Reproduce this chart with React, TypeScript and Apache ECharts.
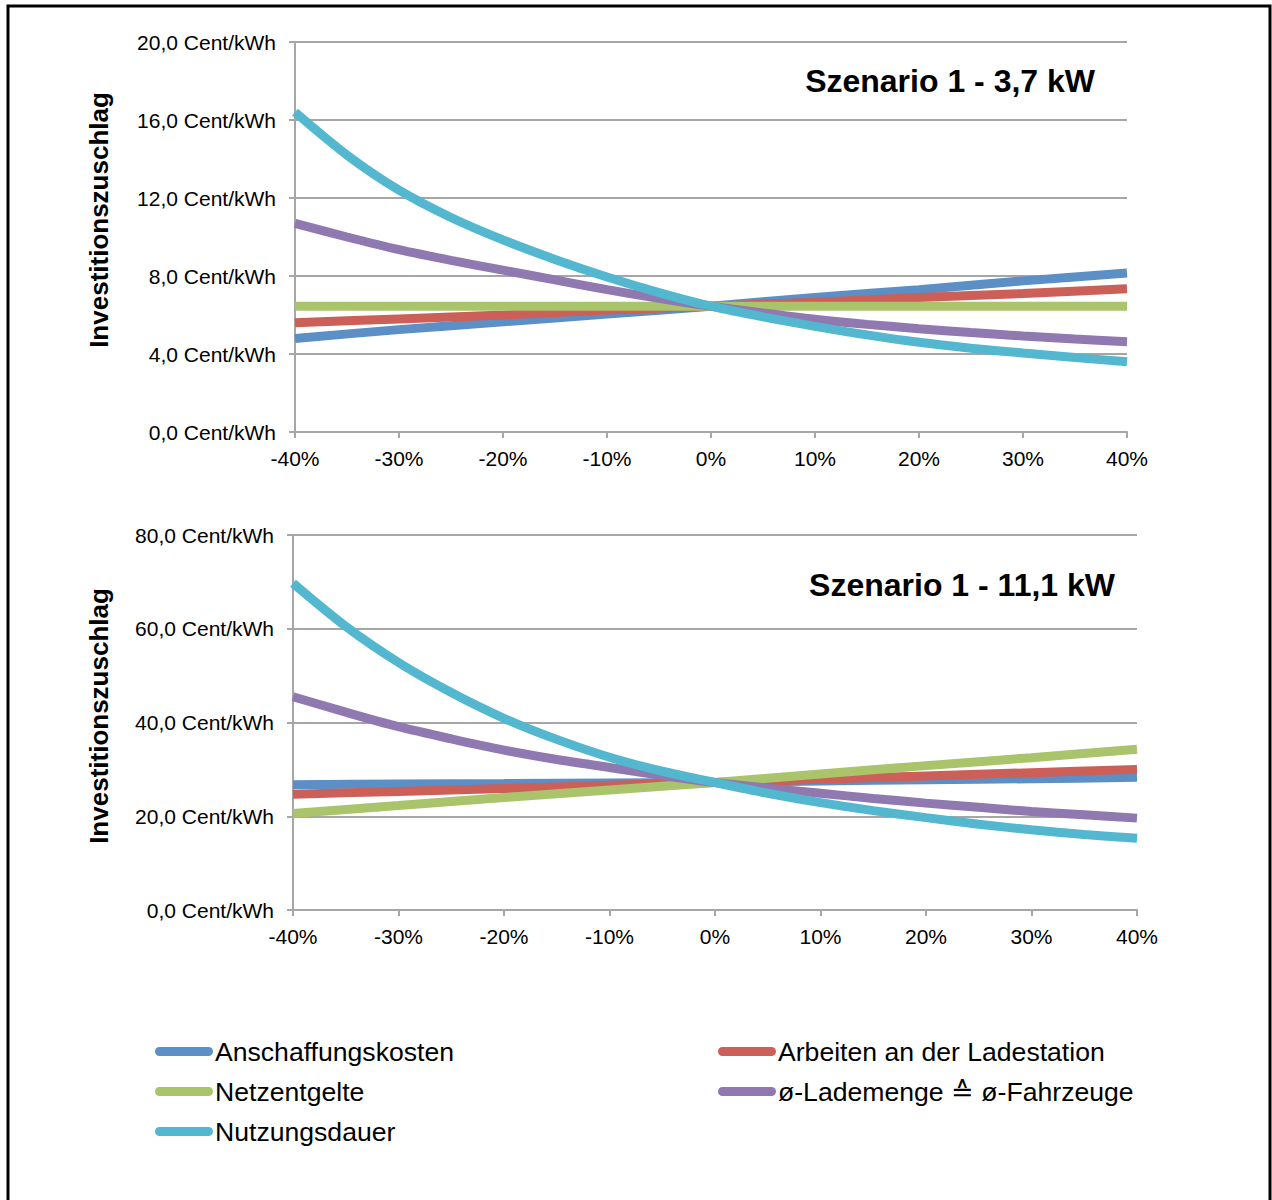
import React, { useEffect, useRef } from "react";
import * as echarts from "echarts";

// x positions (in %) for straight series and for curved series
const xCoarse = [-40, -30, -20, -10, 0, 10, 20, 30, 40];
const xFine = [-40, -35, -30, -25, -20, -15, -10, -5, 0, 5, 10, 15, 20, 25, 30, 35, 40];

const seriesNames = [
  "Anschaffungskosten",
  "Arbeiten an der Ladestation",
  "Netzentgelte",
  "ø-Lademenge ≙ ø-Fahrzeuge",
  "Nutzungsdauer",
];
const colors = ["#5B8FC6", "#CC5F57", "#A9C46A", "#9078B1", "#53B7D0"];

// Szenario 1 - 3,7 kW (xCoarse)
const topBlue = [4.8, 5.25, 5.65, 6.05, 6.45, 6.9, 7.3, 7.75, 8.15];
const topRed = [5.6, 5.8, 6.0, 6.25, 6.45, 6.65, 6.9, 7.1, 7.35];
const topGreen = [6.45, 6.45, 6.45, 6.45, 6.45, 6.45, 6.45, 6.45, 6.45];
// (xFine)
const topPurple = [10.7, 10.0, 9.35, 8.8, 8.3, 7.8, 7.3, 6.85, 6.45, 6.1, 5.78, 5.52, 5.3, 5.1, 4.92, 4.77, 4.63];
const topCyan = [16.4, 14.2, 12.4, 11.0, 9.85, 8.85, 7.95, 7.15, 6.45, 5.9, 5.42, 4.98, 4.6, 4.3, 4.05, 3.82, 3.6];

// Szenario 1 - 11,1 kW (xCoarse)
const botBlue = [26.7, 26.9, 27.0, 27.1, 27.2, 27.5, 27.8, 28.0, 28.3];
const botRed = [24.7, 25.3, 25.9, 26.6, 27.2, 27.9, 28.6, 29.3, 30.0];
const botGreen = [20.6, 22.3, 24.0, 25.6, 27.2, 29.0, 30.8, 32.5, 34.3];
// (xFine)
const botPurple = [45.5, 42.2, 39.1, 36.5, 34.1, 32.1, 30.4, 28.7, 27.2, 26.0, 24.9, 23.8, 22.8, 21.9, 21.0, 20.3, 19.6];
const botCyan = [69.7, 60.5, 52.8, 46.4, 40.9, 36.4, 32.6, 29.6, 27.2, 24.9, 22.9, 21.2, 19.7, 18.3, 17.1, 16.1, 15.3];

const topTitle = "Szenario 1 - 3,7 kW";
const botTitle = "Szenario 1 - 11,1 kW";
const yName = "Investitionszuschlag";

const FONT = "'Liberation Sans', Arial, Helvetica, sans-serif";
const GRAY = "#A6A6A6";

export default function App() {
  const ref = useRef<HTMLDivElement>(null);
  useEffect(() => {
    document.body.style.margin = "0";
    if (!ref.current) return;
    const chart = echarts.init(ref.current, null, { renderer: "svg" });

    const pairs = (xs: number[], vals: number[]) => vals.map((v, i) => [xs[i], v]);
    const topSets = [topBlue, topRed, topGreen, topPurple, topCyan];
    const botSets = [botBlue, botRed, botGreen, botPurple, botCyan];

    const mkSeries = (sets: number[][], idx: number) =>
      sets.map((vals, i) => ({
        type: "line",
        name: seriesNames[i],
        xAxisIndex: idx,
        yAxisIndex: idx,
        data: pairs(vals.length === xFine.length ? xFine : xCoarse, vals),
        smooth: 0.3,
        symbol: "none",
        color: colors[i],
        lineStyle: { width: 9, color: colors[i], cap: "butt" },
        itemStyle: { color: colors[i] },
        z: 2 + i,
      }));

    const xAxisBase = (idx: number) => ({
      type: "value",
      gridIndex: idx,
      min: -40,
      max: 40,
      interval: 10,
      axisLine: { show: true, onZero: false, lineStyle: { color: GRAY, width: 2 } },
      axisTick: { show: true, length: 6, lineStyle: { color: GRAY, width: 2 } },
      splitLine: { show: false },
      axisLabel: {
        formatter: (v: number) => `${v}%`,
        fontSize: 21,
        color: "#000",
        fontFamily: FONT,
        margin: 16,
      },
    });

    const yAxisBase = (idx: number, max: number, interval: number) => ({
      type: "value",
      gridIndex: idx,
      min: 0,
      max,
      interval,
      axisLine: { show: true, onZero: false, lineStyle: { color: GRAY, width: 2 } },
      axisTick: { show: true, length: 6, lineStyle: { color: GRAY, width: 2 } },
      splitLine: { show: true, lineStyle: { color: GRAY, width: 2 } },
      axisLabel: {
        formatter: (v: number) => v.toFixed(1).replace(".", ",") + " Cent/kWh",
        fontSize: 21,
        color: "#000",
        fontFamily: FONT,
        margin: 19,
      },
    });

    const capsule =
      "path://M4.5,0H53.5A4.5,4.5,0,0,1,53.5,9H4.5A4.5,4.5,0,0,1,4.5,0Z";

    const legendBase = {
      orient: "vertical",
      padding: 0,
      itemGap: 13,
      itemWidth: 58,
      itemHeight: 9,
      icon: capsule,
      selectedMode: false,
      textStyle: {
        fontSize: 26.6,
        color: "#000",
        fontFamily: FONT,
        padding: [0, 0, 0, -3],
      },
    };

    chart.setOption({
      animation: false,
      backgroundColor: "#fff",
      grid: [
        { left: 295, right: 1272 - 1127, top: 42, height: 390 },
        { left: 293, right: 1272 - 1137, top: 535, height: 375 },
      ],
      xAxis: [xAxisBase(0), xAxisBase(1)],
      yAxis: [yAxisBase(0, 20, 4), yAxisBase(1, 80, 20)],
      legend: [
        {
          ...legendBase,
          left: 155,
          top: 1038,
          data: [seriesNames[0], seriesNames[2], seriesNames[4]],
        },
        {
          ...legendBase,
          left: 718,
          top: 1038,
          data: [seriesNames[1], seriesNames[3]],
        },
      ],
      graphic: [
        {
          type: "rect",
          shape: { x: 8, y: 6, width: 1262, height: 1204 },
          style: { fill: "none", stroke: "#000", lineWidth: 3 },
          silent: true,
        },
        {
          type: "text",
          x: 1095,
          y: 81,
          style: {
            text: topTitle,
            fontSize: 32,
            fontWeight: "bold",
            fontFamily: FONT,
            fill: "#000",
            textAlign: "right",
            textVerticalAlign: "middle",
          },
        },
        {
          type: "text",
          x: 1115,
          y: 585,
          style: {
            text: botTitle,
            fontSize: 32,
            fontWeight: "bold",
            fontFamily: FONT,
            fill: "#000",
            textAlign: "right",
            textVerticalAlign: "middle",
          },
        },
        {
          type: "text",
          x: 99,
          y: 220,
          rotation: Math.PI / 2,
          style: {
            text: yName,
            fontSize: 26,
            fontWeight: "bold",
            fontFamily: FONT,
            fill: "#000",
            textAlign: "center",
            textVerticalAlign: "middle",
          },
        },
        {
          type: "text",
          x: 99,
          y: 716,
          rotation: Math.PI / 2,
          style: {
            text: yName,
            fontSize: 26,
            fontWeight: "bold",
            fontFamily: FONT,
            fill: "#000",
            textAlign: "center",
            textVerticalAlign: "middle",
          },
        },
      ],
      series: [...mkSeries(topSets, 0), ...mkSeries(botSets, 1)],
    });

    return () => chart.dispose();
  }, []);

  return <div ref={ref} style={{ width: 1272, height: 1200 }} />;
}
